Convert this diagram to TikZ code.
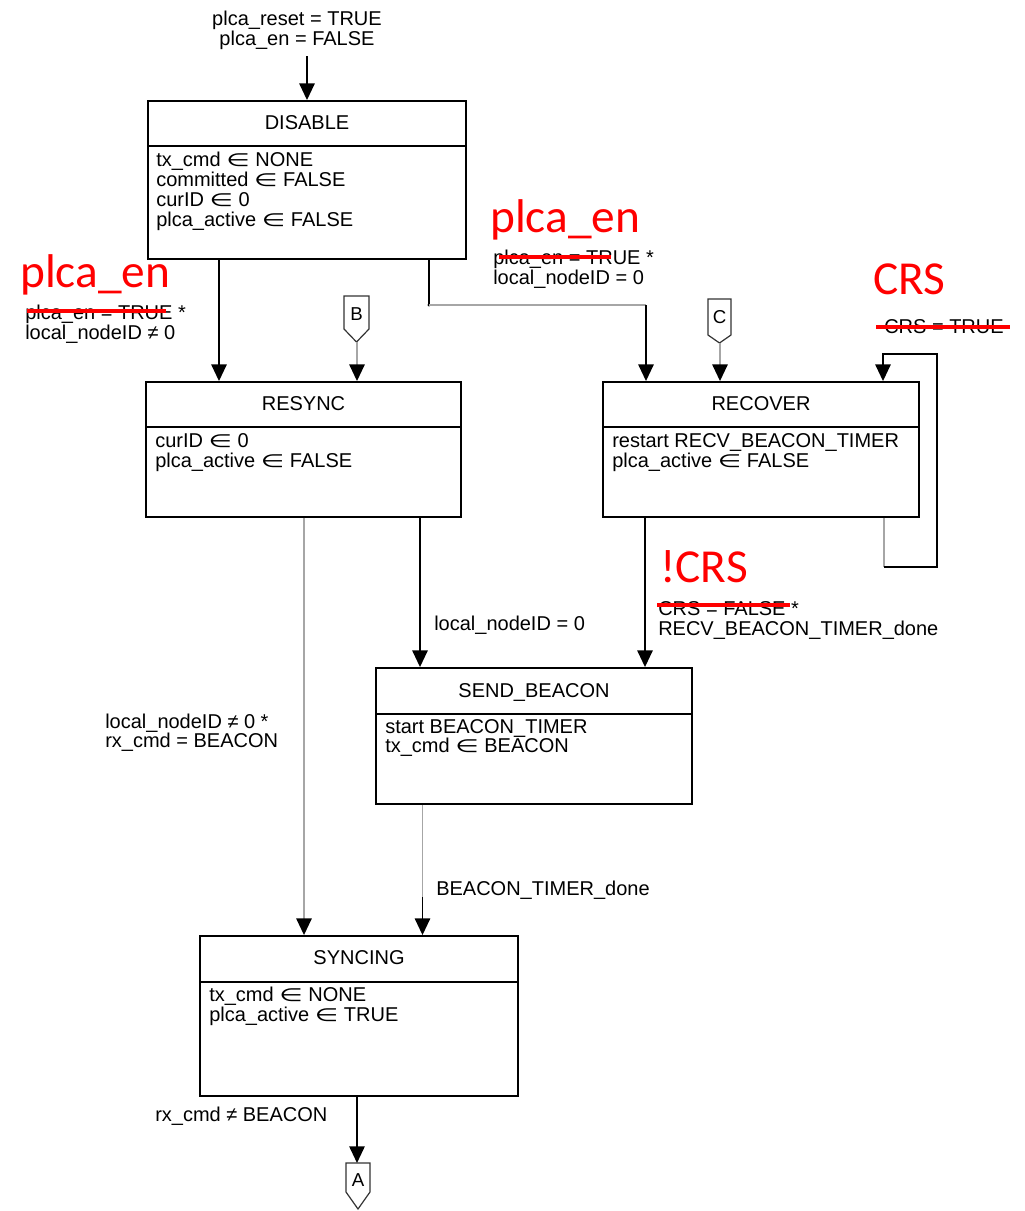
\documentclass[tikz,border=0pt]{standalone}
\usepackage{fontspec}
\usepackage{graphicx}
\setmainfont{Liberation Sans}
\newfontfamily\redfont{Carlito}
\newfontfamily\symfont{DejaVu Sans}
\usetikzlibrary{arrows.meta,fit}
\newcommand\asg{\scalebox{1.35}[0.9]{\symfont ∈}}
\tikzset{
  box/.style={draw, line width=1.4pt, inner sep=0pt},
  txt/.style={inner sep=0pt, anchor=base west, font=\fontsize{15}{15}\selectfont},
  ttl/.style={inner sep=0pt, anchor=base, font=\fontsize{15}{15}\selectfont},
  redlbl/.style={inner sep=0pt, anchor=base west, text=red, font=\redfont\fontsize{35.5}{35.5}\selectfont},
  strike/.style={draw=red, line width=2.4pt},
  ln/.style={line width=1.3pt},
  gln/.style={line width=1.3pt, draw=black!35},
  arr/.style={ln, -{Triangle[length=12.5pt,width=11.5pt]}},
  garr/.style={gln, -{Triangle[length=12.5pt,width=11.5pt,color=black]}},
  conn/.style={line width=0.9pt, draw=black!80},
  connlbl/.style={inner sep=0pt, font=\fontsize{14}{14}\selectfont},
}
\begin{document}
\begin{tikzpicture}[x=0.75pt,y=-0.75pt]
\useasboundingbox (0,0) rectangle (1025,1211);

% ---------- states ----------
\node[box, fit={(148,101) (466,259)}] (DIS) {};
\draw[line width=1.4pt] (DIS.west |- 0,146) -- (DIS.east |- 0,146);
\node[ttl] (DISt) at (307,129) {DISABLE};
\node[txt] (DIS1) at (156,166.5) {tx\_cmd \asg{} NONE};
\node[txt] (DIS2) at (156,186.5) {committed \asg{} FALSE};
\node[txt] (DIS3) at (156,206.5) {curID \asg{} 0};
\node[txt] (DIS4) at (156,226.5) {plca\_active \asg{} FALSE};

\node[box, fit={(146,382) (461,517)}] (RES) {};
\draw[line width=1.4pt] (RES.west |- 0,427) -- (RES.east |- 0,427);
\node[ttl] (RESt) at (303.5,410) {RESYNC};
\node[txt] (RES1) at (155,447) {curID \asg{} 0};
\node[txt] (RES2) at (155,467) {plca\_active \asg{} FALSE};

\node[box, fit={(603,382) (919,517)}] (REC) {};
\draw[line width=1.4pt] (REC.west |- 0,427) -- (REC.east |- 0,427);
\node[ttl] (RECt) at (761,410) {RECOVER};
\node[txt] (REC1) at (612,447) {restart RECV\_BEACON\_TIMER};
\node[txt] (REC2) at (612,467) {plca\_active \asg{} FALSE};

\node[box, fit={(376,668) (692,804)}] (SEND) {};
\draw[line width=1.4pt] (SEND.west |- 0,714) -- (SEND.east |- 0,714);
\node[ttl] (SENDt) at (534,697) {SEND\_BEACON};
\node[txt] (SEND1) at (385,733) {start BEACON\_TIMER};
\node[txt] (SEND2) at (385,752.5) {tx\_cmd \asg{} BEACON};

\node[box, fit={(200,936) (518,1096)}] (SYN) {};
\draw[line width=1.4pt] (SYN.west |- 0,982) -- (SYN.east |- 0,982);
\node[ttl] (SYNt) at (359,964) {SYNCING};
\node[txt] (SYN1) at (209,1001) {tx\_cmd \asg{} NONE};
\node[txt] (SYN2) at (209,1021) {plca\_active \asg{} TRUE};

% ---------- off-page connectors ----------
\draw[conn] (344,296) -- (369,296) -- (369,329) -- (356.5,342) -- (344,329) -- cycle;
\node[connlbl] (B) at (356.5,314) {B};
\coordinate (Bt) at (357,342);
\draw[conn] (708,299) -- (731,299) -- (731,335) -- (719.5,343) -- (708,335) -- cycle;
\node[connlbl] (C) at (719.5,317) {C};
\coordinate (Ct) at (720,343);
\draw[conn] (346,1163) -- (370,1163) -- (370,1192) -- (358,1209) -- (346,1192) -- cycle;
\node[connlbl] (A) at (358,1180) {A};
\coordinate (At) at (357,1163);

% ---------- connectors ----------
\coordinate (top) at (307,56);
\draw[arr] (top) -- (DIS.north -| top);

\coordinate (x1) at (219,0);
\draw[arr] (DIS.south -| x1) -- (RES.north -| x1);
\draw[garr] (Bt) -- (RES.north -| Bt);

\coordinate (cn1) at (429,305);
\coordinate (cn2) at (646,305);
\draw[ln] (DIS.south -| cn1) -- (cn1);
\fill (cn1) circle (1.6);
\draw[gln] (cn1) -- (cn2);
\draw[arr] (cn2) -- (REC.north -| cn2);
\draw[garr] (Ct) -- (REC.north -| Ct);

\coordinate (lp1) at (884,567);
\coordinate (lp2) at (937,567);
\coordinate (lp3) at (937,354);
\coordinate (lp4) at (883,354);
\draw[gln] (REC.south -| lp1) -- (lp1);
\draw[arr] (lp1) -- (lp2) -- (lp3) -- (lp4) -- (REC.north -| lp4);

\coordinate (x2) at (304,0);
\draw[garr] (RES.south -| x2) -- (SYN.north -| x2);
\coordinate (x3) at (420,0);
\draw[arr] (RES.south -| x3) -- (SEND.north -| x3);
\coordinate (x4) at (645,0);
\draw[arr] (REC.south -| x4) -- (SEND.north -| x4);
\coordinate (x5) at (422.5,897);
\draw[gln] (SEND.south -| x5) -- (x5);
\draw[arr] (x5) -- (SYN.north -| x5);
\draw[arr] (SYN.south -| At) -- (At);

% ---------- labels ----------
\node[ttl] (L1) at (297,25) {plca\_reset = TRUE};
\node[ttl] (L2) at (297,45) {plca\_en = FALSE};

\node[redlbl] (R1) at (20,287) {plca\_en};
\node[txt] (L3) at (25,319) {plca\_en = TRUE *};
\node[txt] (L4) at (25,339) {local\_nodeID ≠ 0};
\draw[strike] (27,311) -- (166,311);

\node[redlbl] (R2) at (490,232) {plca\_en};
\node[txt] (L5) at (493,264) {plca\_en = TRUE *};
\node[txt] (L6) at (493,284) {local\_nodeID = 0};
\draw[strike] (499,257) -- (611,257);

\node[redlbl] (R3) at (873,294) {CRS};
\node[txt] (L7) at (884,333) {CRS = TRUE};
\draw[strike] (876,327) -- (1010,327);

\node[redlbl] (R4) at (660,582) {!CRS};
\node[txt] (L8) at (658,615) {CRS = FALSE *};
\node[txt] (L9) at (658,635) {RECV\_BEACON\_TIMER\_done};
\draw[strike] (657,605) -- (790,605);

\node[txt] (L10) at (434,630) {local\_nodeID = 0};
\node[txt] (L11) at (105,728) {local\_nodeID ≠ 0 *};
\node[txt] (L12) at (105,747) {rx\_cmd = BEACON};
\node[txt] (L13) at (436,895) {BEACON\_TIMER\_done};
\node[txt] (L14) at (155,1121) {rx\_cmd ≠ BEACON};
\end{tikzpicture}
\end{document}
